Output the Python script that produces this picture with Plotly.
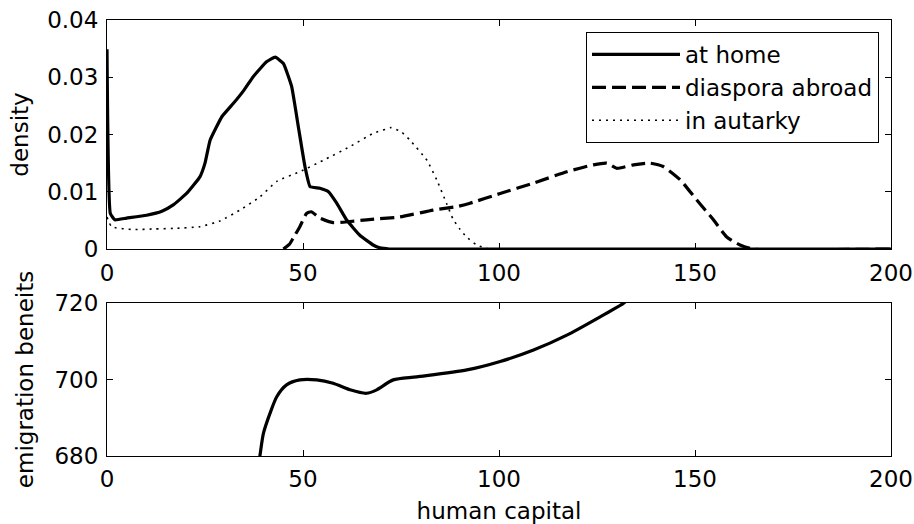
import plotly.graph_objects as go

# ---------------- data ----------------
home_x = [0, 0.85, 2.0, 5, 10.1, 14, 16.9, 20.3, 23.7, 25, 26.3, 29.3, 32.2, 35, 37.3,
          40.7, 42.9, 45.0, 47.1, 48.8, 50.5, 51.8, 54.3, 56.5, 58.6, 61.1, 64.5, 67.9,
          69.6, 72, 200]
home_y = [0.0349, 0.0062, 0.0051, 0.0054, 0.0059, 0.0066, 0.0077, 0.0097, 0.0126, 0.0150,
          0.0190, 0.0231, 0.0254, 0.0278, 0.0301, 0.0327, 0.0335, 0.0324, 0.0284, 0.0214,
          0.0144, 0.0109, 0.0106, 0.0100, 0.0080, 0.0051, 0.0024, 0.0007, 0.0002, 0, 0]

dia_x = [45.0, 46.5, 47.5, 49.2, 50.9, 52.1, 54.3, 57.7, 62, 66.2, 74.7, 83.2, 89.2, 92.6,
         100.3, 108.8, 117.3, 124.1, 127.5, 130.0, 134.3, 138.5, 141.9, 146.2, 150.4,
         154.7, 158.1, 161.5, 164.8, 200]
dia_y = [0, 0.0008, 0.0019, 0.0039, 0.0062, 0.0065, 0.0054, 0.0046, 0.0048, 0.0051, 0.0056,
         0.0068, 0.0074, 0.0080, 0.0097, 0.0115, 0.0135, 0.0147, 0.0150, 0.0141, 0.0147,
         0.0150, 0.0144, 0.0121, 0.0086, 0.0051, 0.0021, 0.0007, 0, 0]

aut_x = [0, 1.2, 6.7, 12, 16.9, 23.7, 28.8, 33.9, 39.0, 43.3, 49.2, 55.2, 62.0, 67.9, 71,
         72.5, 75, 77.3, 81.6, 84.1, 86.6, 88.3, 90, 91.7, 94.3, 96.9, 98, 200]
aut_y = [0.0056, 0.0039, 0.0034, 0.0035, 0.0036, 0.0039, 0.0049, 0.0068, 0.0091, 0.0118,
         0.0135, 0.0155, 0.0179, 0.0202, 0.0209, 0.0212, 0.0205, 0.0190, 0.0155, 0.0121,
         0.0080, 0.0052, 0.0035, 0.0021, 0.0007, 0.0001, 0, 0]

ben_x = [38.5, 39.0, 39.9, 41.6, 43.3, 45.8, 49.2, 53.5, 57.7, 62.0, 66.2, 68.8, 73.0, 79.0,
         91.8, 100.3, 108.8, 117.3, 125.8, 131.7, 133.5]
ben_y = [677, 680, 685.9, 691.2, 695.5, 698.6, 699.9, 699.9, 699.0, 697.3, 696.4, 697.3,
         699.9, 700.7, 702.5, 704.7, 707.7, 711.6, 716.4, 719.9, 721.5]

x_ticks = [0, 50, 100, 150, 200]
dens_ticks = [0, 0.01, 0.02, 0.03, 0.04]
ben_ticks = [680, 700, 720]

FONT = "DejaVu Sans"
FS = 23

fig = go.Figure()
fig.add_trace(go.Scatter(x=home_x, y=home_y, mode="lines", name="at home",
                         line=dict(color="black", width=3.2, shape="spline", smoothing=0.35),
                         xaxis="x", yaxis="y"))
fig.add_trace(go.Scatter(x=dia_x, y=dia_y, mode="lines", name="diaspora abroad",
                         line=dict(color="black", width=3.2, dash="14px,6px", shape="spline",
                                   smoothing=0.5), xaxis="x", yaxis="y"))
fig.add_trace(go.Scatter(x=aut_x, y=aut_y, mode="lines", name="in autarky",
                         line=dict(color="black", width=1.6, dash="2px,5px", shape="spline",
                                   smoothing=0.5), xaxis="x", yaxis="y"))
fig.add_trace(go.Scatter(x=ben_x, y=ben_y, mode="lines", name="benefits", showlegend=False,
                         line=dict(color="black", width=3.2, shape="spline", smoothing=0.7),
                         xaxis="x2", yaxis="y2"))

axis_common = dict(showline=True, linecolor="black", linewidth=1, mirror="allticks",
                   ticks="inside", ticklen=6, tickcolor="black", tickwidth=1,
                   showgrid=False, zeroline=False,
                   tickfont=dict(family=FONT, size=FS, color="black"))

W, H = 914, 524
ml, mr, mt, mb = 107, 23, 20, 68
ph = H - mt - mb
top_dom = [(456 - 249) / ph, 1.0]
bot_dom = [0.0, (456 - 303) / ph]

fig.update_layout(
    width=W, height=H,
    margin=dict(l=ml, r=mr, t=mt, b=mb, autoexpand=False),
    paper_bgcolor="white", plot_bgcolor="white",
    font=dict(family=FONT, size=FS, color="black"),
    xaxis=dict(range=[0, 200], tickvals=x_ticks, domain=[0, 1], anchor="y",
               ticklabelstandoff=3, **axis_common),
    yaxis=dict(range=[0, 0.04], tickvals=dens_ticks, domain=top_dom, anchor="x",
               ticklabelstandoff=3,
               title=dict(text="density", standoff=12, font=dict(family=FONT, size=FS)),
               **axis_common),
    xaxis2=dict(range=[0, 200], tickvals=x_ticks, domain=[0, 1], anchor="y2",
                ticklabelstandoff=2,
                title=dict(text="human capital", standoff=14, font=dict(family=FONT, size=FS)),
                **axis_common),
    yaxis2=dict(range=[680, 720], tickvals=ben_ticks, domain=bot_dom, anchor="x2",
                ticklabelstandoff=3,
                title=dict(text="emigration beneits", standoff=14, font=dict(family=FONT, size=FS)),
                **axis_common),
    legend=dict(x=(879 - ml) / (W - ml - mr), xanchor="right",
                y=(456 - 32) / ph, yanchor="top",
                bgcolor="white", bordercolor="black", borderwidth=1,
                font=dict(family=FONT, size=FS, color="black"),
                itemwidth=88, tracegroupgap=0),
    showlegend=True,
)

fig.write_html("out.html", config={"displayModeBar": False})
